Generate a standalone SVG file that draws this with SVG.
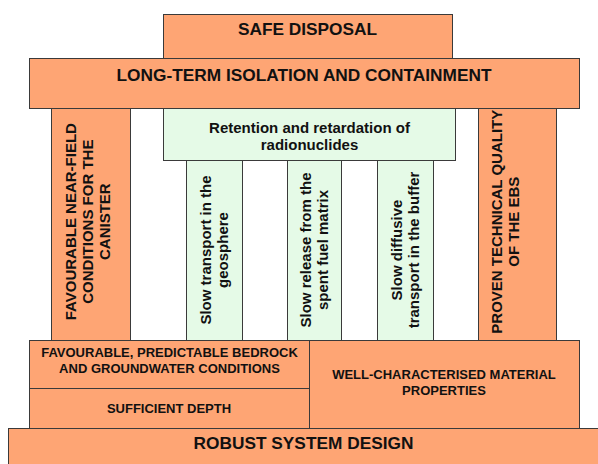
<svg xmlns="http://www.w3.org/2000/svg" width="598" height="464" viewBox="0 0 598 464">
<style>
.o{fill:#FEA574;stroke:#3a3a3a;stroke-width:1}
.g{fill:#E5FAE7;stroke:#3a3a3a;stroke-width:1}
text{font-family:"Liberation Sans",Arial,sans-serif;font-weight:bold;fill:#111;text-anchor:middle}
.big{font-size:17.3px}
.med{font-size:15px}
.sm{font-size:13px}
</style>
<rect width="598" height="464" fill="#fff"/>
<g id="robust">
<rect class="o" x="8.5" y="428.5" width="595" height="40"/>
<text class="big" x="303.5" y="449.3">ROBUST SYSTEM DESIGN</text>
</g>
<g id="bedrock">
<rect class="o" x="29.5" y="340.5" width="280" height="48"/>
<text class="sm" x="169.5" y="356.7">FAVOURABLE, PREDICTABLE BEDROCK</text>
<text class="sm" x="169.5" y="372.7">AND GROUNDWATER CONDITIONS</text>
</g>
<g id="depth">
<rect class="o" x="29.5" y="388.5" width="280" height="40"/>
<text class="sm" x="169" y="413.3">SUFFICIENT DEPTH</text>
</g>
<g id="material">
<rect class="o" x="309.5" y="340.5" width="270" height="88"/>
<text class="sm" x="444" y="379.3">WELL-CHARACTERISED MATERIAL</text>
<text class="sm" x="444" y="395.3">PROPERTIES</text>
</g>
<g id="nearfield">
<rect class="o" x="51.5" y="108.5" width="79" height="232"/>
<text class="med" transform="translate(76,221.7) rotate(-90)">FAVOURABLE NEAR-FIELD</text>
<text class="med" transform="translate(93.2,221.7) rotate(-90)">CONDITIONS FOR THE</text>
<text class="med" transform="translate(110.4,221.7) rotate(-90)">CANISTER</text>
</g>
<g id="ebs">
<rect class="o" x="478.5" y="108.5" width="78" height="232"/>
<text class="med" transform="translate(501.6,221.7) rotate(-90)">PROVEN TECHNICAL QUALITY</text>
<text class="med" transform="translate(519,221.7) rotate(-90)">OF THE EBS</text>
</g>
<g id="retention">
<rect class="g" x="163.5" y="108.5" width="292" height="52"/>
<text class="med" x="309.5" y="133.3">Retention and retardation of</text>
<text class="med" x="309.5" y="150">radionuclides</text>
</g>
<g id="geosphere">
<rect class="g" x="186.5" y="160.5" width="56" height="180"/>
<text class="med" transform="translate(210.8,250) rotate(-90)">Slow transport in the</text>
<text class="med" transform="translate(227.8,250) rotate(-90)">geosphere</text>
</g>
<g id="fuel">
<rect class="g" x="287.5" y="160.5" width="54" height="180"/>
<text class="med" transform="translate(311,250) rotate(-90)">Slow release from the</text>
<text class="med" transform="translate(328,250) rotate(-90)">spent fuel matrix</text>
</g>
<g id="buffer">
<rect class="g" x="377.5" y="160.5" width="56" height="180"/>
<text class="med" transform="translate(401.8,250) rotate(-90)">Slow diffusive</text>
<text class="med" transform="translate(418.8,250) rotate(-90)">transport in the buffer</text>
</g>
<g id="longterm">
<rect class="o" x="29.5" y="58.5" width="550" height="50"/>
<text class="big" x="304" y="81">LONG-TERM ISOLATION AND CONTAINMENT</text>
</g>
<g id="safe">
<rect class="o" x="163.5" y="14.5" width="289" height="44"/>
<text class="big" x="307.5" y="35">SAFE DISPOSAL</text>
</g>
<g id="connectors"></g>
</svg>
